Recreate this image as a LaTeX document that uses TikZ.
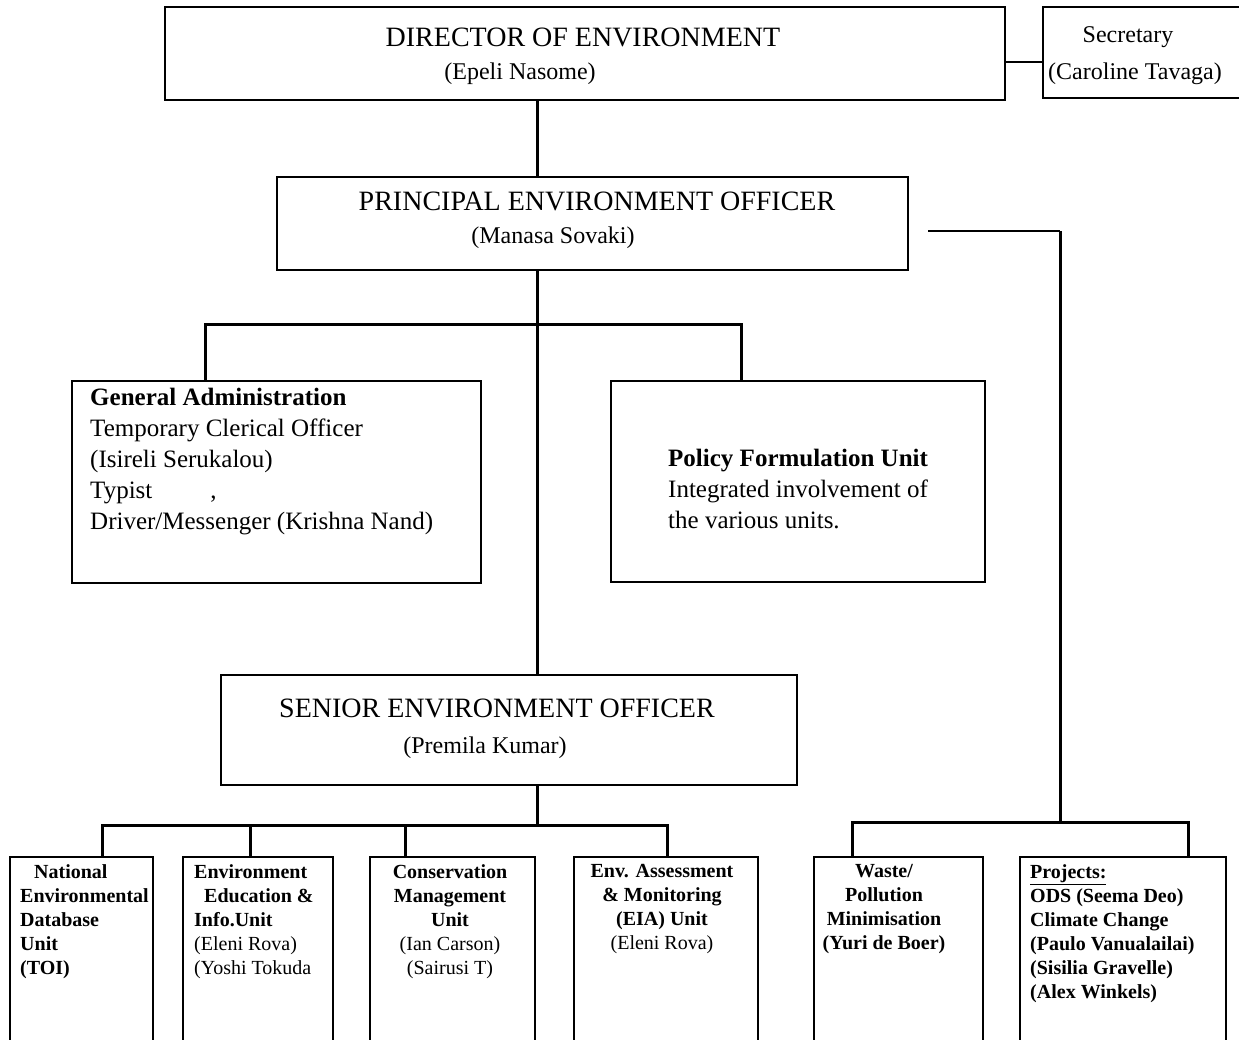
\documentclass[tikz,border=0pt]{standalone}
\usepackage{fontspec}
\setmainfont{Liberation Serif}
\begin{document}
\begin{tikzpicture}[x=1pt,y=-1pt,
  unitbox/.style={draw, line width=1.4pt, inner sep=0pt, outer sep=0pt, anchor=north west},
  conn/.style={line width=3pt, line join=miter},
  titletext/.style={font=\fontsize{28}{32}\selectfont, inner sep=0pt, anchor=base},
  subtext/.style={font=\fontsize{24}{28}\selectfont, inner sep=0pt, anchor=base},
  bodytext/.style={font=\fontsize{25}{31}\selectfont, inner sep=0pt, anchor=north west, align=left},
  celltext/.style={font=\fontsize{20}{24}\selectfont\bfseries, inner sep=0pt, anchor=north},
  cellleft/.style={celltext, anchor=north west, align=left}]

\useasboundingbox (0,0) rectangle (1239,1040);
\clip (0,0) rectangle (1239,1040);

% ---- boxes ----
\node[unitbox, minimum width=840, minimum height=93] (dir) at (165,7) {};
\node[unitbox, minimum width=210, minimum height=91] (sec) at (1043,7) {};
\node[unitbox, minimum width=631, minimum height=93] (peo) at (277,177) {};
\node[unitbox, minimum width=409, minimum height=202] (ga) at (72,381) {};
\node[unitbox, minimum width=374, minimum height=201] (pf) at (611,381) {};
\node[unitbox, minimum width=576, minimum height=110] (seo) at (221,675) {};
\node[unitbox, minimum width=143, minimum height=200] (b1) at (10,857) {};
\node[unitbox, minimum width=150, minimum height=200] (b2) at (183,857) {};
\node[unitbox, minimum width=165, minimum height=200] (b3) at (370,857) {};
\node[unitbox, minimum width=184, minimum height=200] (b4) at (574,857) {};
\node[unitbox, minimum width=169, minimum height=200] (b5) at (814,857) {};
\node[unitbox, minimum width=206, minimum height=200] (b6) at (1020,857) {};

% ---- titles ----
\node[titletext] (dirT) at (583,47) {DIRECTOR OF ENVIRONMENT};
\node[subtext] (dirS) at (520,80) {(Epeli Nasome)};
\node[subtext] (secT) at (1128,43) {Secretary};
\node[subtext] (secS) at (1135,80) {(Caroline Tavaga)};
\node[titletext] (peoT) at (597,211) {PRINCIPAL ENVIRONMENT OFFICER};
\node[subtext] (peoS) at (553,244) {(Manasa Sovaki)};
\node[titletext] (seoT) at (497,717) {SENIOR ENVIRONMENT OFFICER};
\node[subtext] (seoS) at (485,753) {(Premila Kumar)};

% ---- middle units ----
\node[bodytext] (gaT) at (90,388) {\textbf{General Administration}\\
  Temporary Clerical Officer\\
  (Isireli Serukalou)\\
  Typist\hspace{58pt},\\
  Driver/Messenger (Krishna Nand)};
\node[bodytext] (pfT) at (668,449) {\textbf{Policy Formulation Unit}\\
  Integrated involvement of\\
  the various units.};

% ---- lower units ----
\node[cellleft] (b1T) at (20,864) {\hspace*{14pt}National\\ Environmental\\ Database\\ Unit\\ (TOI)};
\node[cellleft] (b2T) at (194,864) {Environment\\ \hspace*{10pt}Education \&\\ Info.Unit\\
  \mdseries (Eleni Rova)\\ \mdseries (Yoshi Tokuda};
\node[celltext, align=center] (b3T) at (450,864) {Conservation\\ Management\\ Unit\\
  \mdseries (Ian Carson)\\ \mdseries (Sairusi T)};
\node[celltext, align=center] (b4T) at (662,864) {Env. Assessment\\ \& Monitoring\\ (EIA) Unit\\
  \mdseries (Eleni Rova)};
\node[celltext, align=center] (b5T) at (884,864) {Waste/\\ Pollution\\ Minimisation\\ (Yuri de Boer)};
\node[cellleft] (b6T) at (1030,864) {\underline{Projects:}\\ ODS (Seema Deo)\\ Climate Change\\
  (Paulo Vanualailai)\\ (Sisilia Gravelle)\\ (Alex Winkels)};

% ---- connector coordinates ----
\coordinate (spine) at (537,0);
\coordinate (secY) at (0,62);
\coordinate (midL) at (205,325);
\coordinate (midR) at (741,325);
\coordinate (lowBar) at (0,825);
\coordinate (d1) at (102,825);
\coordinate (d2) at (250,825);
\coordinate (d3) at (405,825);
\coordinate (d4) at (667,825);
\coordinate (tapStart) at (928,231);
\coordinate (tapCorner) at (1060,231);
\coordinate (tapJoin) at (1060,822);
\coordinate (r1) at (852,822);
\coordinate (r2) at (1188,822);

% ---- connectors ----
\draw[conn, line width=2pt] (dir.east |- secY) -- (sec.west |- secY);
\draw[conn] (dir.south -| spine) -- (peo.north -| spine);
\draw[conn] (peo.south -| spine) -- (seo.north -| spine);
\draw[conn] (ga.north -| midL) -- (midL) -- (midR) -- (pf.north -| midR);
\draw[conn] (seo.south -| spine) -- (spine |- lowBar);
\draw[conn] (b1.north -| d1) -- (d1) -- (d4) -- (b4.north -| d4);
\draw[conn] (d2) -- (b2.north -| d2);
\draw[conn] (d3) -- (b3.north -| d3);
\draw[conn, line width=2pt] (tapStart) -- (tapCorner);
\draw[conn] (tapCorner) -- (tapJoin);
\draw[conn] (b5.north -| r1) -- (r1) -- (r2) -- (b6.north -| r2);
\end{tikzpicture}
\end{document}
